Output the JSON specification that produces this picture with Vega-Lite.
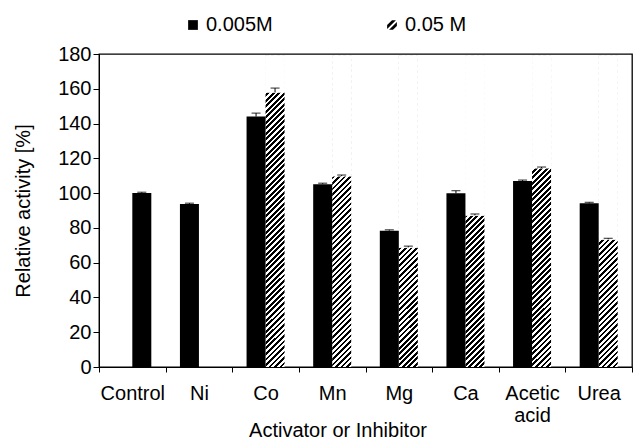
{
  "$schema": "https://vega.github.io/schema/vega-lite/v6.json",
  "width": 533,
  "height": 313,
  "autosize": {"type": "none"},
  "padding": {"left": 99, "top": 54, "right": 3, "bottom": 73},
  "background": "white",
  "config": {
    "view": {"stroke": "#000", "strokeWidth": 1.3},
    "font": "Liberation Sans",
    "axis": {
      "labelFont": "Liberation Sans", "titleFont": "Liberation Sans",
      "labelFontSize": 20, "titleFontSize": 20, "titleFontWeight": "normal",
      "labelColor": "#000", "titleColor": "#000", "domainColor": "#000", "tickColor": "#000",
      "domainWidth": 1, "tickWidth": 1, "grid": false
    },
    "axisY": {"tickCount": 9, "tickSize": 6, "labelPadding": 2, "titleX": -70, "titleBaseline": "alphabetic"}
  },
  "data": {
    "values": [
      {"Activator": "Control", "Conc": "0.05 M", "Value": 100, "Upper": 100.5},
      {"Activator": "Ni", "Conc": "0.005M", "Value": 93.7, "Upper": 94.2},
      {"Activator": "Co", "Conc": "0.005M", "Value": 144, "Upper": 146},
      {"Activator": "Co", "Conc": "0.05 M", "Value": 158, "Upper": 160.4},
      {"Activator": "Mn", "Conc": "0.005M", "Value": 105.1, "Upper": 105.7},
      {"Activator": "Mn", "Conc": "0.05 M", "Value": 109.8, "Upper": 110.4},
      {"Activator": "Mg", "Conc": "0.005M", "Value": 78.4, "Upper": 78.9},
      {"Activator": "Mg", "Conc": "0.05 M", "Value": 68.8, "Upper": 69.5},
      {"Activator": "Ca", "Conc": "0.005M", "Value": 99.9, "Upper": 101.4},
      {"Activator": "Ca", "Conc": "0.05 M", "Value": 87.2, "Upper": 88},
      {"Activator": "Acetic acid", "Conc": "0.005M", "Value": 107, "Upper": 107.5},
      {"Activator": "Acetic acid", "Conc": "0.05 M", "Value": 114.4, "Upper": 115},
      {"Activator": "Urea", "Conc": "0.005M", "Value": 94.1, "Upper": 94.7},
      {"Activator": "Urea", "Conc": "0.05 M", "Value": 73.4, "Upper": 74}
    ]
  },
  "encoding": {
    "x": {
      "field": "Activator", "type": "nominal",
      "sort": ["Control", "Ni", "Co", "Mn", "Mg", "Ca", "Acetic acid", "Urea"],
      "scale": {"paddingInner": 0, "paddingOuter": 0},
      "axis": {
        "title": "Activator or Inhibitor", "labelAngle": 0, "tickBand": "extent",
        "tickSize": 5, "labelPadding": 11, "labelLineHeight": 22, "labelOverlap": false,
        "labelExpr": "datum.label == 'Acetic acid' ? ['Acetic', 'acid'] : datum.label",
        "titleX": 238.5, "titleY": 69, "titleAlign": "center", "titleBaseline": "alphabetic"
      }
    },
    "xOffset": {
      "field": "Conc", "type": "nominal",
      "scale": {"domain": ["0.005M", "0.05 M"], "paddingInner": 0, "paddingOuter": 0.7533}
    }
  },
  "layer": [
    {
      "transform": [{"filter": "datum.Conc === '0.05 M' && datum.Activator !== 'Control'"}],
      "mark": {
        "type": "bar", "strokeWidth": 0,
        "fill": {
          "gradient": "linear", "x1": 0, "y1": 0, "x2": 0.06435, "y2": 1.05696,
          "stops": [
            {"offset":0,"color":"#000"},
            {"offset":0.0083,"color":"#000"},{"offset":0.0083,"color":"#fff"},
            {"offset":0.0167,"color":"#fff"},{"offset":0.0167,"color":"#000"},
            {"offset":0.025,"color":"#000"},{"offset":0.025,"color":"#fff"},
            {"offset":0.0333,"color":"#fff"},{"offset":0.0333,"color":"#000"},
            {"offset":0.0417,"color":"#000"},{"offset":0.0417,"color":"#fff"},
            {"offset":0.05,"color":"#fff"},{"offset":0.05,"color":"#000"},
            {"offset":0.0583,"color":"#000"},{"offset":0.0583,"color":"#fff"},
            {"offset":0.0667,"color":"#fff"},{"offset":0.0667,"color":"#000"},
            {"offset":0.075,"color":"#000"},{"offset":0.075,"color":"#fff"},
            {"offset":0.0833,"color":"#fff"},{"offset":0.0833,"color":"#000"},
            {"offset":0.0917,"color":"#000"},{"offset":0.0917,"color":"#fff"},
            {"offset":0.1,"color":"#fff"},{"offset":0.1,"color":"#000"},
            {"offset":0.1083,"color":"#000"},{"offset":0.1083,"color":"#fff"},
            {"offset":0.1167,"color":"#fff"},{"offset":0.1167,"color":"#000"},
            {"offset":0.125,"color":"#000"},{"offset":0.125,"color":"#fff"},
            {"offset":0.1333,"color":"#fff"},{"offset":0.1333,"color":"#000"},
            {"offset":0.1417,"color":"#000"},{"offset":0.1417,"color":"#fff"},
            {"offset":0.15,"color":"#fff"},{"offset":0.15,"color":"#000"},
            {"offset":0.1583,"color":"#000"},{"offset":0.1583,"color":"#fff"},
            {"offset":0.1667,"color":"#fff"},{"offset":0.1667,"color":"#000"},
            {"offset":0.175,"color":"#000"},{"offset":0.175,"color":"#fff"},
            {"offset":0.1833,"color":"#fff"},{"offset":0.1833,"color":"#000"},
            {"offset":0.1917,"color":"#000"},{"offset":0.1917,"color":"#fff"},
            {"offset":0.2,"color":"#fff"},{"offset":0.2,"color":"#000"},
            {"offset":0.2083,"color":"#000"},{"offset":0.2083,"color":"#fff"},
            {"offset":0.2167,"color":"#fff"},{"offset":0.2167,"color":"#000"},
            {"offset":0.225,"color":"#000"},{"offset":0.225,"color":"#fff"},
            {"offset":0.2333,"color":"#fff"},{"offset":0.2333,"color":"#000"},
            {"offset":0.2417,"color":"#000"},{"offset":0.2417,"color":"#fff"},
            {"offset":0.25,"color":"#fff"},{"offset":0.25,"color":"#000"},
            {"offset":0.2583,"color":"#000"},{"offset":0.2583,"color":"#fff"},
            {"offset":0.2667,"color":"#fff"},{"offset":0.2667,"color":"#000"},
            {"offset":0.275,"color":"#000"},{"offset":0.275,"color":"#fff"},
            {"offset":0.2833,"color":"#fff"},{"offset":0.2833,"color":"#000"},
            {"offset":0.2917,"color":"#000"},{"offset":0.2917,"color":"#fff"},
            {"offset":0.3,"color":"#fff"},{"offset":0.3,"color":"#000"},
            {"offset":0.3083,"color":"#000"},{"offset":0.3083,"color":"#fff"},
            {"offset":0.3167,"color":"#fff"},{"offset":0.3167,"color":"#000"},
            {"offset":0.325,"color":"#000"},{"offset":0.325,"color":"#fff"},
            {"offset":0.3333,"color":"#fff"},{"offset":0.3333,"color":"#000"},
            {"offset":0.3417,"color":"#000"},{"offset":0.3417,"color":"#fff"},
            {"offset":0.35,"color":"#fff"},{"offset":0.35,"color":"#000"},
            {"offset":0.3583,"color":"#000"},{"offset":0.3583,"color":"#fff"},
            {"offset":0.3667,"color":"#fff"},{"offset":0.3667,"color":"#000"},
            {"offset":0.375,"color":"#000"},{"offset":0.375,"color":"#fff"},
            {"offset":0.3833,"color":"#fff"},{"offset":0.3833,"color":"#000"},
            {"offset":0.3917,"color":"#000"},{"offset":0.3917,"color":"#fff"},
            {"offset":0.4,"color":"#fff"},{"offset":0.4,"color":"#000"},
            {"offset":0.4083,"color":"#000"},{"offset":0.4083,"color":"#fff"},
            {"offset":0.4167,"color":"#fff"},{"offset":0.4167,"color":"#000"},
            {"offset":0.425,"color":"#000"},{"offset":0.425,"color":"#fff"},
            {"offset":0.4333,"color":"#fff"},{"offset":0.4333,"color":"#000"},
            {"offset":0.4417,"color":"#000"},{"offset":0.4417,"color":"#fff"},
            {"offset":0.45,"color":"#fff"},{"offset":0.45,"color":"#000"},
            {"offset":0.4583,"color":"#000"},{"offset":0.4583,"color":"#fff"},
            {"offset":0.4667,"color":"#fff"},{"offset":0.4667,"color":"#000"},
            {"offset":0.475,"color":"#000"},{"offset":0.475,"color":"#fff"},
            {"offset":0.4833,"color":"#fff"},{"offset":0.4833,"color":"#000"},
            {"offset":0.4917,"color":"#000"},{"offset":0.4917,"color":"#fff"},
            {"offset":0.5,"color":"#fff"},{"offset":0.5,"color":"#000"},
            {"offset":0.5083,"color":"#000"},{"offset":0.5083,"color":"#fff"},
            {"offset":0.5167,"color":"#fff"},{"offset":0.5167,"color":"#000"},
            {"offset":0.525,"color":"#000"},{"offset":0.525,"color":"#fff"},
            {"offset":0.5333,"color":"#fff"},{"offset":0.5333,"color":"#000"},
            {"offset":0.5417,"color":"#000"},{"offset":0.5417,"color":"#fff"},
            {"offset":0.55,"color":"#fff"},{"offset":0.55,"color":"#000"},
            {"offset":0.5583,"color":"#000"},{"offset":0.5583,"color":"#fff"},
            {"offset":0.5667,"color":"#fff"},{"offset":0.5667,"color":"#000"},
            {"offset":0.575,"color":"#000"},{"offset":0.575,"color":"#fff"},
            {"offset":0.5833,"color":"#fff"},{"offset":0.5833,"color":"#000"},
            {"offset":0.5917,"color":"#000"},{"offset":0.5917,"color":"#fff"},
            {"offset":0.6,"color":"#fff"},{"offset":0.6,"color":"#000"},
            {"offset":0.6083,"color":"#000"},{"offset":0.6083,"color":"#fff"},
            {"offset":0.6167,"color":"#fff"},{"offset":0.6167,"color":"#000"},
            {"offset":0.625,"color":"#000"},{"offset":0.625,"color":"#fff"},
            {"offset":0.6333,"color":"#fff"},{"offset":0.6333,"color":"#000"},
            {"offset":0.6417,"color":"#000"},{"offset":0.6417,"color":"#fff"},
            {"offset":0.65,"color":"#fff"},{"offset":0.65,"color":"#000"},
            {"offset":0.6583,"color":"#000"},{"offset":0.6583,"color":"#fff"},
            {"offset":0.6667,"color":"#fff"},{"offset":0.6667,"color":"#000"},
            {"offset":0.675,"color":"#000"},{"offset":0.675,"color":"#fff"},
            {"offset":0.6833,"color":"#fff"},{"offset":0.6833,"color":"#000"},
            {"offset":0.6917,"color":"#000"},{"offset":0.6917,"color":"#fff"},
            {"offset":0.7,"color":"#fff"},{"offset":0.7,"color":"#000"},
            {"offset":0.7083,"color":"#000"},{"offset":0.7083,"color":"#fff"},
            {"offset":0.7167,"color":"#fff"},{"offset":0.7167,"color":"#000"},
            {"offset":0.725,"color":"#000"},{"offset":0.725,"color":"#fff"},
            {"offset":0.7333,"color":"#fff"},{"offset":0.7333,"color":"#000"},
            {"offset":0.7417,"color":"#000"},{"offset":0.7417,"color":"#fff"},
            {"offset":0.75,"color":"#fff"},{"offset":0.75,"color":"#000"},
            {"offset":0.7583,"color":"#000"},{"offset":0.7583,"color":"#fff"},
            {"offset":0.7667,"color":"#fff"},{"offset":0.7667,"color":"#000"},
            {"offset":0.775,"color":"#000"},{"offset":0.775,"color":"#fff"},
            {"offset":0.7833,"color":"#fff"},{"offset":0.7833,"color":"#000"},
            {"offset":0.7917,"color":"#000"},{"offset":0.7917,"color":"#fff"},
            {"offset":0.8,"color":"#fff"},{"offset":0.8,"color":"#000"},
            {"offset":0.8083,"color":"#000"},{"offset":0.8083,"color":"#fff"},
            {"offset":0.8167,"color":"#fff"},{"offset":0.8167,"color":"#000"},
            {"offset":0.825,"color":"#000"},{"offset":0.825,"color":"#fff"},
            {"offset":0.8333,"color":"#fff"},{"offset":0.8333,"color":"#000"},
            {"offset":0.8417,"color":"#000"},{"offset":0.8417,"color":"#fff"},
            {"offset":0.85,"color":"#fff"},{"offset":0.85,"color":"#000"},
            {"offset":0.8583,"color":"#000"},{"offset":0.8583,"color":"#fff"},
            {"offset":0.8667,"color":"#fff"},{"offset":0.8667,"color":"#000"},
            {"offset":0.875,"color":"#000"},{"offset":0.875,"color":"#fff"},
            {"offset":0.8833,"color":"#fff"},{"offset":0.8833,"color":"#000"},
            {"offset":0.8917,"color":"#000"},{"offset":0.8917,"color":"#fff"},
            {"offset":0.9,"color":"#fff"},{"offset":0.9,"color":"#000"},
            {"offset":0.9083,"color":"#000"},{"offset":0.9083,"color":"#fff"},
            {"offset":0.9167,"color":"#fff"},{"offset":0.9167,"color":"#000"},
            {"offset":0.925,"color":"#000"},{"offset":0.925,"color":"#fff"},
            {"offset":0.9333,"color":"#fff"},{"offset":0.9333,"color":"#000"},
            {"offset":0.9417,"color":"#000"},{"offset":0.9417,"color":"#fff"},
            {"offset":0.95,"color":"#fff"},{"offset":0.95,"color":"#000"},
            {"offset":0.9583,"color":"#000"},{"offset":0.9583,"color":"#fff"},
            {"offset":0.9667,"color":"#fff"},{"offset":0.9667,"color":"#000"},
            {"offset":0.975,"color":"#000"},{"offset":0.975,"color":"#fff"},
            {"offset":0.9833,"color":"#fff"},{"offset":0.9833,"color":"#000"},
            {"offset":0.9917,"color":"#000"},{"offset":0.9917,"color":"#fff"},
            {"offset":1,"color":"#fff"}
          ]
        }
      },
      "encoding": {
        "y": {"datum": 179, "type": "quantitative", "scale": {"domain": [0, 180], "nice": false}, "axis": {"title": "Relative activity [%]"}}
      }
    },
    {
      "transform": [{"filter": "datum.Conc === '0.05 M' && datum.Activator !== 'Control'"}],
      "mark": {"type": "bar", "fill": "#fff", "stroke": "#fff", "strokeWidth": 1},
      "encoding": {
        "y": {"field": "Value", "type": "quantitative", "scale": {"domain": [0, 180], "nice": false}, "axis": {"title": "Relative activity [%]"}},
        "y2": {"datum": 179}
      }
    },
    {
      "transform": [{"filter": "datum.Conc === '0.005M' || datum.Activator === 'Control'"}],
      "mark": {"type": "bar", "strokeWidth": 0, "color": "#000"},
      "encoding": {
        "y": {"field": "Value", "type": "quantitative", "scale": {"domain": [0, 180], "nice": false}, "axis": {"title": "Relative activity [%]"}}
      }
    },
    {
      "mark": {"type": "rule", "color": "#000", "strokeWidth": 1},
      "encoding": {
        "y": {"field": "Value", "type": "quantitative", "scale": {"domain": [0, 180], "nice": false}, "axis": {"title": "Relative activity [%]"}},
        "y2": {"field": "Upper"}
      }
    },
    {
      "mark": {"type": "tick", "color": "#000", "thickness": 1.2, "size": 9, "orient": "horizontal"},
      "encoding": {
        "y": {"field": "Upper", "type": "quantitative", "scale": {"domain": [0, 180], "nice": false}, "axis": {"title": "Relative activity [%]"}}
      }
    },
    {
      "mark": {"type": "point", "filled": true, "opacity": 0, "color": "#000"},
      "encoding": {
        "y": {"field": "Value", "type": "quantitative", "scale": {"domain": [0, 180], "nice": false}, "axis": {"title": "Relative activity [%]"}},
        "shape": {
          "field": "Conc", "type": "nominal",
          "scale": {"domain": ["0.005M", "0.05 M"], "range": ["square", "M-1,0L0,-1L0.8,-1L-1,0.8ZM-0.6,1L1,-0.6L1,0.2L0.2,1Z"]},
          "legend": {
            "title": null, "orient": "none", "legendX": 84, "legendY": -39, "direction": "horizontal",
            "labelFont": "Liberation Sans", "labelFontSize": 20, "labelColor": "#000",
            "symbolSize": 95, "symbolStrokeWidth": 0, "symbolFillColor": "#000", "symbolOpacity": 1,
            "columnPadding": 109, "labelOffset": 3, "padding": 0, "labelLimit": 300
          }
        }
      }
    }
  ]
}
